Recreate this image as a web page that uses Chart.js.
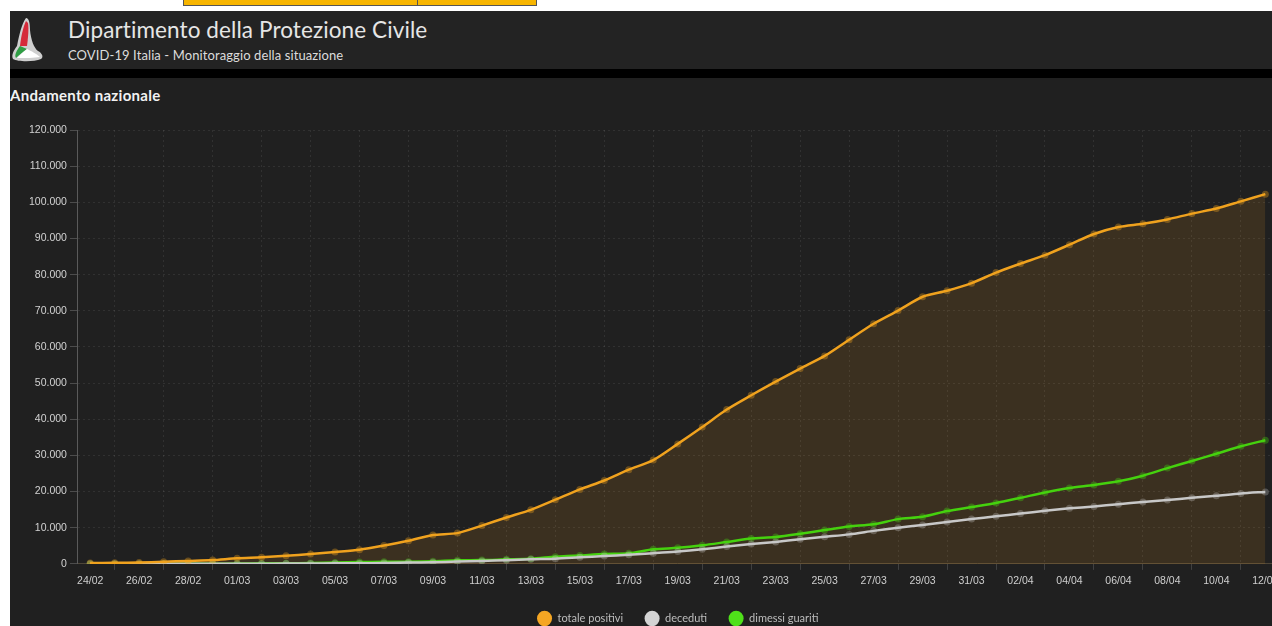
<!DOCTYPE html>
<html>
<head>
<meta charset="utf-8">
<script src="https://cdn.jsdelivr.net/npm/chart.js@4.4.1/dist/chart.umd.min.js"></script>
<style>
  html, body { margin: 0; padding: 0; background: #fff; overflow: hidden; width: 1272px; height: 626px; }
  #topbar { position: absolute; left: 183px; top: -2px; width: 352px; height: 6px; background: #f7b500; border: 1px solid #555; }
  #topbar div { position: absolute; left: 233px; top: 0; width: 1px; height: 6px; background: #555; }
  #header { position: absolute; left: 10px; top: 11px; width: 1262px; height: 58px; background: #232323; }
  #band { position: absolute; left: 10px; top: 69px; width: 1262px; height: 9px; background: #000; }
  #panel { position: absolute; left: 10px; top: 78px; width: 1262px; height: 548px; background: #202020; }
  #title { position: absolute; left: 58px; top: 5px; font-family: Lato, sans-serif; font-size: 22.5px; color: #e6e6e6; letter-spacing: 0.1px; }
  #subtitle { position: absolute; left: 58px; top: 36px; font-family: Lato, sans-serif; font-size: 13px; color: #dcdcdc; letter-spacing: 0.1px; }
  #logo { position: absolute; left: 0px; top: 4px; }
  #panelTitle { position: absolute; left: 0px; top: 8px; font-family: Lato, sans-serif; font-weight: bold; font-size: 15px; color: #f2f2f2; letter-spacing: 0.3px; }
  #chartBox { position: absolute; left: 10px; top: 120px; width: 1273px; height: 514px; }
</style>
</head>
<body>
<div id="topbar"><div></div></div>
<div id="header">
  <svg id="logo" width="34" height="50" viewBox="0 0 34 50">
    <path d="M16 3 C12 8 9 20 7 31 C4 35 1 40 3 44 C8 47 24 47 31 44 C34 42 32 38 28 36 C24 33 21 25 20 15 C20 8 19 3 16 3 Z" fill="#cfcfcf"/>
    <path d="M16 6 C13 12 11 22 10 31 L17 31 C18 23 19 14 18 8 Z" fill="#d52b3a"/>
    <path d="M10 31 C7 35 4 40 6 43 C9 40 13 37 17 34 Z" fill="#2f9e44"/>
    <path d="M17 34 C21 36 27 39 30 42 C25 43 14 43 7 43 C10 40 13 37 17 34 Z" fill="#ffffff"/>
  </svg>
  <div id="title">Dipartimento della Protezione Civile</div>
  <div id="subtitle">COVID-19 Italia - Monitoraggio della situazione</div>
</div>
<div id="band"></div>
<div id="panel">
  <div id="panelTitle">Andamento nazionale</div>
</div>
<div id="chartBox"><canvas id="chart"></canvas></div>

<script>
// dates 24/02 -> 12/04
const dates = [
  "24/02", "25/02", "26/02", "27/02", "28/02", "29/02",
  "01/03", "02/03", "03/03", "04/03", "05/03", "06/03", "07/03", "08/03", "09/03", "10/03",
  "11/03", "12/03", "13/03", "14/03", "15/03", "16/03", "17/03", "18/03", "19/03", "20/03",
  "21/03", "22/03", "23/03", "24/03", "25/03", "26/03", "27/03", "28/03", "29/03", "30/03", "31/03",
  "01/04", "02/04", "03/04", "04/04", "05/04", "06/04", "07/04", "08/04", "09/04", "10/04", "11/04", "12/04"
];

const totalePositivi = [
  221, 311, 385, 588, 821, 1049,
  1577, 1835, 2263, 2706, 3296, 3916, 5061, 6387, 7985, 8514,
  10590, 12839, 14955, 17750, 20603, 23073, 26062, 28710, 33190, 37860,
  42681, 46638, 50418, 54030, 57521, 62013, 66414, 70065, 73880, 75528, 77635,
  80572, 83049, 85388, 88274, 91246, 93187, 94067, 95262, 96877, 98273, 100269, 102253
];

const deceduti = [
  7, 10, 12, 17, 21, 29,
  34, 52, 79, 107, 148, 197, 233, 366, 463, 631,
  827, 1016, 1266, 1441, 1809, 2158, 2503, 2978, 3405, 4032,
  4825, 5476, 6077, 6820, 7503, 8165, 9134, 10023, 10779, 11591, 12428,
  13155, 13915, 14681, 15362, 15887, 16523, 17127, 17669, 18279, 18849, 19468, 19899
];

const dimessiGuariti = [
  1, 1, 3, 45, 46, 50,
  83, 149, 160, 276, 414, 523, 589, 622, 724, 1004,
  1045, 1258, 1439, 1966, 2335, 2749, 2941, 4025, 4440, 5129,
  6072, 7024, 7432, 8326, 9362, 10361, 10950, 12384, 13030, 14620, 15729,
  16847, 18278, 19758, 20996, 21815, 22837, 24392, 26491, 28470, 30455, 32534, 34211
];

const seriesColors = ["#f0a21e", "#c8c8c8", "#45d10e"];
const legendColors = ["#f5a623", "#d4d4d4", "#4fe01a"];

const yMax = 120000;
const yStep = 10000;

// 120000 -> "120.000"
function formatIt(v) {
  return String(v).replace(/\B(?=(\d{3})+(?!\d))/g, ".");
}

const tickFont = { family: "'Liberation Sans', Arial, sans-serif", size: 10.5 };
const gridColor = "rgba(255,255,255,0.08)";

const ctx = document.getElementById("chart").getContext("2d");
new Chart(ctx, {
  type: "line",
  data: {
    labels: dates,
    datasets: [
      {
        label: "totale positivi",
        data: totalePositivi,
        borderColor: seriesColors[0],
        backgroundColor: "rgba(245,160,40,0.13)",
        pointBackgroundColor: "rgba(240,162,30,0.35)",
        fill: "origin",
        borderWidth: 2.5,
        pointRadius: 3.5,
        pointBorderWidth: 0,
        tension: 0.25,
      },
      {
        label: "deceduti",
        data: deceduti,
        borderColor: seriesColors[1],
        backgroundColor: seriesColors[1],
        pointBackgroundColor: "rgba(200,200,200,0.3)",
        fill: false,
        borderWidth: 2.5,
        pointRadius: 3.5,
        pointBorderWidth: 0,
        tension: 0.25,
      },
      {
        label: "dimessi guariti",
        data: dimessiGuariti,
        borderColor: seriesColors[2],
        backgroundColor: seriesColors[2],
        pointBackgroundColor: "rgba(70,210,15,0.35)",
        fill: false,
        borderWidth: 2.5,
        pointRadius: 3.5,
        pointBorderWidth: 0,
        tension: 0.25,
      },
    ],
  },
  options: {
    responsive: true,
    maintainAspectRatio: false,
    animation: false,
    layout: { padding: { left: 16, top: 10, right: 0, bottom: 0 } },
    scales: {
      x: {
        offset: true,
        grid: {
          offset: true,
          color: gridColor,
          tickLength: 6,
          tickColor: "rgba(255,255,255,0.15)",
        },
        border: { color: "#4e4638", dash: [2, 3] },
        ticks: {
          color: "#cfcfcf",
          font: tickFont,
          maxRotation: 0,
          autoSkip: false,
          padding: 4.5,
          callback: function (value, index) {
            return index % 2 === 0 ? dates[index] : null;
          },
        },
      },
      y: {
        min: 0,
        max: yMax,
        grid: {
          color: gridColor,
          tickLength: 8,
          tickColor: "rgba(255,255,255,0.2)",
        },
        border: { color: "#5a5a5a", dash: [2, 3] },
        ticks: {
          stepSize: yStep,
          color: "#d2d2d2",
          font: tickFont,
          padding: 3,
          callback: (v) => formatIt(v),
        },
      },
    },
    plugins: {
      filler: { drawTime: "beforeDatasetsDraw" },
      legend: {
        position: "bottom",
        fullSize: false,
        labels: {
          usePointStyle: true,
          pointStyle: "circle",
          pointStyleWidth: 15,
          boxHeight: 15,
          padding: 21.5,
          color: "#bdbdbd",
          font: { family: "Lato, sans-serif", size: 11 },
          generateLabels: function (chart) {
            const items = Chart.defaults.plugins.legend.labels.generateLabels(chart);
            items.forEach((item, i) => {
              item.fillStyle = legendColors[i];
              item.strokeStyle = legendColors[i];
              item.lineWidth = 0;
            });
            return items;
          },
        },
      },
      tooltip: { enabled: false },
    },
  },
});
</script>
</body>
</html>
